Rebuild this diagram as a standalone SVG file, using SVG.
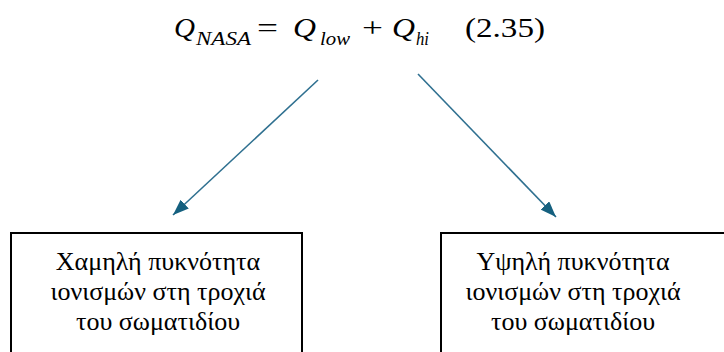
<svg xmlns="http://www.w3.org/2000/svg" width="724" height="352" viewBox="0 0 724 352">
<style>
.box{fill:#fff;stroke:#000;stroke-width:2}
.conn{stroke:#2f7090;stroke-width:1.6;fill:none}
</style>
<defs>
<marker id="ah" markerUnits="userSpaceOnUse" markerWidth="18" markerHeight="12" refX="16" refY="6" orient="auto">
<path d="M0,0 L16,6 L0,12 z" fill="#15607f"/>
</marker>
</defs>
<g id="formula" font-family="Liberation Serif, DejaVu Serif, serif" fill="#000">
<text x="174" y="37" font-size="28" font-style="italic" textLength="21" lengthAdjust="spacingAndGlyphs">Q</text>
<text x="196" y="45" font-size="18" font-style="italic" textLength="55" lengthAdjust="spacingAndGlyphs">NASA</text>
<text x="257" y="37" font-size="27" textLength="21" lengthAdjust="spacingAndGlyphs">=</text>
<text x="293" y="37" font-size="28" font-style="italic" textLength="23" lengthAdjust="spacingAndGlyphs">Q</text>
<text x="320" y="45" font-size="18" font-style="italic" textLength="30" lengthAdjust="spacingAndGlyphs">low</text>
<text x="362" y="37" font-size="27" textLength="21" lengthAdjust="spacingAndGlyphs">+</text>
<text x="392" y="37" font-size="28" font-style="italic" textLength="23" lengthAdjust="spacingAndGlyphs">Q</text>
<text x="416" y="45" font-size="18" font-style="italic" textLength="13" lengthAdjust="spacingAndGlyphs">hi</text>
<text x="465" y="37" font-size="27" textLength="80" lengthAdjust="spacingAndGlyphs">(2.35)</text>
</g>
<g id="connectors">
<line class="conn" x1="318" y1="80" x2="173" y2="215" marker-end="url(#ah)"/>
<line class="conn" x1="418" y1="74" x2="556" y2="217" marker-end="url(#ah)"/>
</g>
<g id="low" font-family="Liberation Serif, DejaVu Serif, serif" font-size="26" text-anchor="middle" fill="#000">
<rect class="box" x="11" y="233" width="291" height="140"/>
<text x="158" y="270">Χαμηλή πυκνότητα</text>
<text x="158" y="300">ιονισμών στη τροχιά</text>
<text x="158" y="330">του σωματιδίου</text>
</g>
<g id="high" font-family="Liberation Serif, DejaVu Serif, serif" font-size="26" text-anchor="middle" fill="#000">
<rect class="box" x="441" y="233" width="300" height="140"/>
<text x="573" y="270">Υψηλή πυκνότητα</text>
<text x="573" y="300">ιονισμών στη τροχιά</text>
<text x="573" y="330">του σωματιδίου</text>
</g>
</svg>
